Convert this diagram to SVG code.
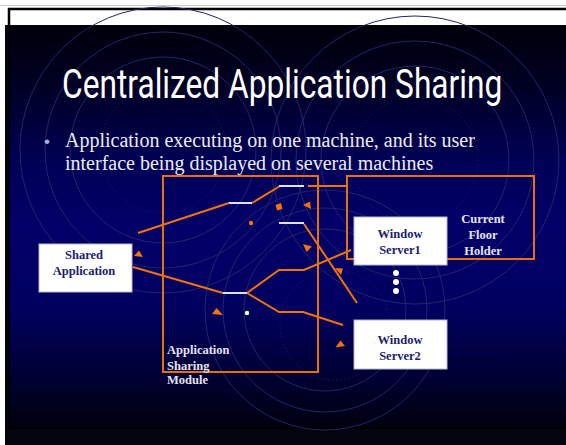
<svg xmlns="http://www.w3.org/2000/svg" width="566" height="445" viewBox="0 0 566 445">
  <defs>
    <linearGradient id="bg" x1="0" y1="25" x2="0" y2="428" gradientUnits="userSpaceOnUse">
      <stop offset="0" stop-color="#00000a"/>
      <stop offset="0.15" stop-color="#000024"/>
      <stop offset="0.35" stop-color="#000058"/>
      <stop offset="0.5" stop-color="#020068"/>
      <stop offset="0.7" stop-color="#010060"/>
      <stop offset="0.85" stop-color="#00003a"/>
      <stop offset="1" stop-color="#00000e"/>
    </linearGradient>
    <style>
      .ring { fill: none; stroke: #24246c; stroke-width: 1; }
      .dot { fill: none; stroke: #24246c; stroke-width: 1; stroke-dasharray: 1 3; }
      .obox { fill: none; stroke: #e6700f; stroke-width: 2; }
      .ol { fill: none; stroke: #f2720c; stroke-width: 2; }
      .sw { stroke: #dfe0f0; stroke-width: 2; }
      .arr { fill: #f2720c; }
      .wbox { fill: #ffffff; stroke: #b8b8c8; stroke-width: 1; }
      .nlab { font-family: "Liberation Serif", "Times New Roman", serif; font-weight: bold; font-size: 12.5px; fill: #1c1c6e; text-anchor: middle; }
      .wlab { font-family: "Liberation Serif", "Times New Roman", serif; font-weight: bold; font-size: 12.5px; fill: #e4e4ee; }
    </style>
  </defs>

  <!-- frame / background -->
  <rect x="0" y="0" width="566" height="445" fill="#ffffff"/>
  <line x1="0" y1="5.5" x2="566" y2="5.5" stroke="#c8c8c8" stroke-width="1"/>
  <polyline points="9,25 9,9 566,9" fill="none" stroke="#000000" stroke-width="2.5"/>
  <rect x="5" y="25" width="561" height="420" fill="#04040e"/>
  <rect x="10" y="25" width="556" height="402" fill="url(#bg)"/>
  <line x1="9" y1="25" x2="9" y2="428" stroke="#000000" stroke-width="2"/>
  <line x1="9" y1="428" x2="566" y2="428" stroke="#000000" stroke-width="2"/>

  <!-- decorative rings -->
  <g id="rings">
    <circle class="ring" cx="163" cy="150" r="143"/>
    <circle class="ring" cx="163" cy="150" r="118"/>
    <circle class="ring" cx="163" cy="150" r="93"/>
    <circle class="dot" cx="163" cy="150" r="63"/>
    <circle class="ring" cx="415" cy="160" r="144"/>
    <circle class="ring" cx="415" cy="160" r="119"/>
    <circle class="ring" cx="415" cy="160" r="94"/>
    <circle class="dot" cx="415" cy="160" r="63"/>
    <circle class="ring" cx="325" cy="310" r="120"/>
    <circle class="ring" cx="325" cy="310" r="102"/>
    <circle class="ring" cx="325" cy="310" r="81"/>
    <circle class="dot" cx="335" cy="325" r="55"/>
  </g>

  <!-- title and bullet -->
  <text transform="translate(62,98) scale(0.82,1)" x="0" y="0" font-family="Roboto, 'Liberation Sans', sans-serif" font-size="40" fill="#ffffff" textLength="537" lengthAdjust="spacingAndGlyphs">Centralized Application Sharing</text>
  <text x="44" y="147" font-family="'Liberation Sans', sans-serif" font-size="17" fill="#a8b0e0">•</text>
  <text font-family="'Liberation Serif', 'Times New Roman', serif" font-size="20" fill="#ececf4">
    <tspan x="65" y="147">Application executing on one machine, and its user</tspan>
    <tspan x="65" y="170">interface being displayed on several machines</tspan>
  </text>

  <!-- connectors -->
  <g id="connectors">
    <line class="ol" x1="308" y1="186" x2="347" y2="186"/>
    <line class="ol" x1="138" y1="233" x2="229" y2="203"/>
    <line class="ol" x1="252" y1="203" x2="280" y2="186"/>
    <line class="ol" x1="304" y1="224" x2="357" y2="303"/>
    <line class="ol" x1="133" y1="267" x2="223" y2="293"/>
    <polyline class="ol" points="247,293 279,270 304,270 351,250"/>
    <polyline class="ol" points="247,293 279,312 303,312 343,325"/>
    <line class="sw" x1="279" y1="186" x2="304" y2="186"/>
    <line class="sw" x1="229" y1="203" x2="252" y2="203"/>
    <line class="sw" x1="279" y1="223" x2="304" y2="223"/>
    <line class="sw" x1="223" y1="293" x2="247" y2="293"/>
    <polygon class="arr" points="275.5,205 281,203 282.5,209 277,210.5"/>
    <polygon class="arr" points="303,205 310,201.5 311,209"/>
    <polygon class="arr" points="303,244 312,246.5 306.5,252"/>
    <polygon class="arr" points="335,268 343,268.5 341,275"/>
    <polygon class="arr" points="139,250.5 134,256 143,257"/>
    <polygon class="arr" points="216.5,308 212,314 223,315"/>
    <polygon class="arr" points="340.5,340.5 335.5,347.5 345,346"/>
    <circle cx="251" cy="223" r="2.2" fill="#f2720c"/>
    <circle cx="247" cy="313" r="2.2" fill="#ffffff"/>
  </g>

  <!-- nodes -->
  <g id="asm">
    <rect class="obox" x="163" y="176" width="155" height="196"/>
    <text class="wlab"><tspan x="167" y="354">Application</tspan><tspan x="167" y="370">Sharing</tspan><tspan x="167" y="384">Module</tspan></text>
  </g>
  <g id="floor-holder">
    <rect class="obox" x="347" y="176" width="187" height="83"/>
    <text class="wlab" text-anchor="middle"><tspan x="483" y="223">Current</tspan><tspan x="483" y="239">Floor</tspan><tspan x="483" y="255">Holder</tspan></text>
  </g>
  <g id="shared-app">
    <rect class="wbox" x="39" y="244" width="93" height="48"/>
    <text class="nlab"><tspan x="84" y="259">Shared</tspan><tspan x="84" y="275">Application</tspan></text>
  </g>
  <g id="ws1">
    <rect class="wbox" x="354" y="217" width="93" height="48"/>
    <text class="nlab"><tspan x="400" y="238">Window</tspan><tspan x="400" y="254">Server1</tspan></text>
  </g>
  <g id="more">
    <circle cx="396" cy="273" r="3" fill="#ffffff"/>
    <circle cx="396" cy="282" r="3" fill="#ffffff"/>
    <circle cx="396" cy="291" r="3" fill="#ffffff"/>
  </g>
  <g id="ws2">
    <rect class="wbox" x="354" y="320" width="93" height="49"/>
    <text class="nlab"><tspan x="400" y="344">Window</tspan><tspan x="400" y="360">Server2</tspan></text>
  </g>
</svg>
